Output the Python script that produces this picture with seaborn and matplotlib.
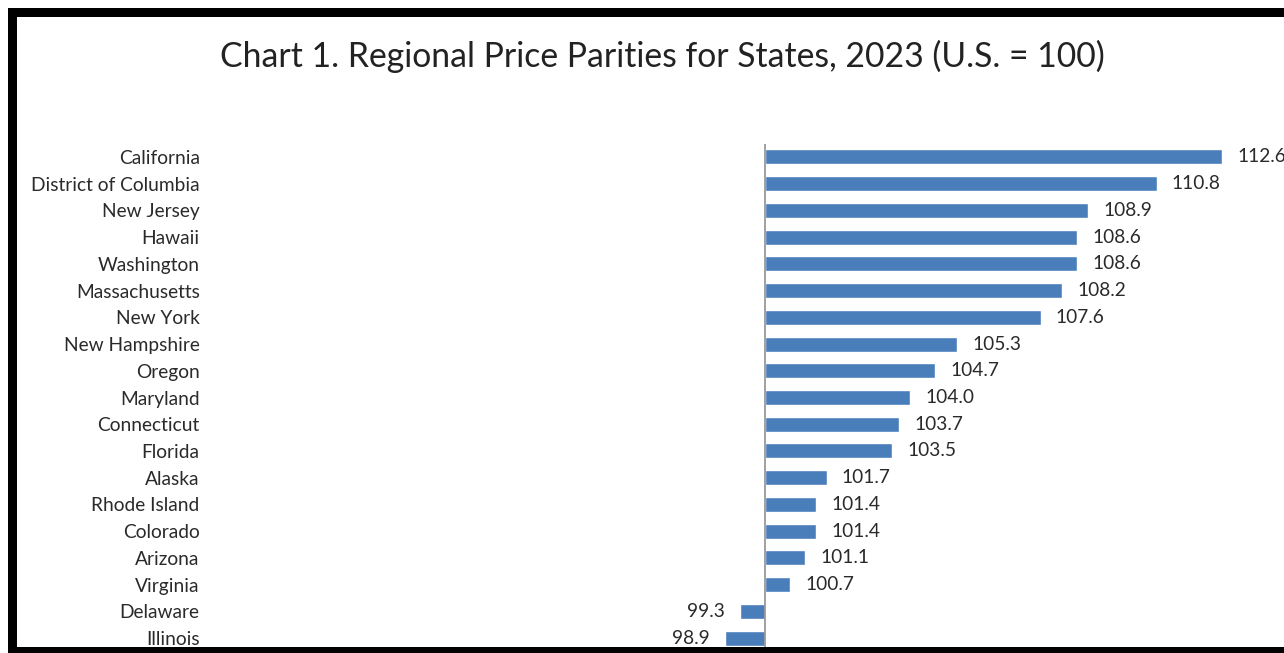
import pandas as pd
import matplotlib.pyplot as plt
import seaborn as sns
from matplotlib.patches import Rectangle

states = ["California", "District of Columbia", "New Jersey", "Hawaii", "Washington",
          "Massachusetts", "New York", "New Hampshire", "Oregon", "Maryland",
          "Connecticut", "Florida", "Alaska", "Rhode Island", "Colorado",
          "Arizona", "Virginia", "Delaware", "Illinois"]
rpp = [112.6, 110.8, 108.9, 108.6, 108.6, 108.2, 107.6, 105.3, 104.7, 104.0,
       103.7, 103.5, 101.7, 101.4, 101.4, 101.1, 100.7, 99.3, 98.9]
BASE = 100.0

df = pd.DataFrame({"state": states, "rpp": rpp})
df["diff"] = df["rpp"] - BASE

sns.set_style("white")
plt.rcParams['font.family'] = ['Lato', 'DejaVu Sans']

W, H = 1284, 653
fig = plt.figure(figsize=(W / 100, H / 100), dpi=100)

# axes placed so that 100 lands at x=765 px
px_per_unit = 36.27
ax_left, ax_right = 215, 1284
top_px, bot_px = 143.6, 651.4
ax = fig.add_axes([ax_left / W, (H - bot_px) / H, (ax_right - ax_left) / W, (bot_px - top_px) / H])

sns.barplot(data=df, x="diff", y="state", orient="h", color="#4a7ebb",
            width=0.56, saturation=1, ax=ax)

ax.set_xlim((ax_left - 765) / px_per_unit, (ax_right - 765) / px_per_unit)
ax.set_ylim(len(states) - 0.5, -0.5)
ax.axvline(0, color="#999999", lw=1.3)
for s in ax.spines.values():
    s.set_visible(False)
ax.set_xticks([])
ax.set_xlabel("")
ax.set_ylabel("")
ax.tick_params(axis="y", length=0, pad=11, labelsize=13.8, labelcolor="#2a2a2a")

for i, (d, v) in enumerate(zip(df["diff"], df["rpp"])):
    if d >= 0:
        ax.text(d + 0.42, i, f"{v:.1f}", va="center", ha="left", fontsize=13.8, color="#2a2a2a", clip_on=False)
    else:
        ax.text(d - 0.42, i, f"{v:.1f}", va="center", ha="right", fontsize=13.8, color="#2a2a2a", clip_on=False)

fig.text(662 / W, 1 - 56 / H, "Chart 1. Regional Price Parities for States, 2023 (U.S. = 100)",
         ha="center", va="center", fontsize=24.3, color="#222222")

# black frame from the screenshot
def px_rect(x0, y0, x1, y1):
    fig.patches.append(Rectangle((x0 / W, 1 - y1 / H), (x1 - x0) / W, (y1 - y0) / H,
                                 transform=fig.transFigure, facecolor="black",
                                 edgecolor="none", zorder=10))

px_rect(8, 8, W, 17)
px_rect(8, 8, 17, H)
px_rect(8, 647, W, H)

fig.savefig("out.png", dpi=100)
